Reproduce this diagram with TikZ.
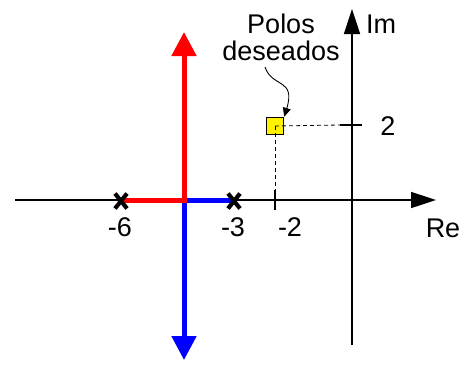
\documentclass[tikz,border=0pt]{standalone}
\usepackage{fontspec}
\setmainfont{Liberation Sans}
\usetikzlibrary{arrows.meta}
\begin{document}
\begin{tikzpicture}[x=1pt,y=-1pt,
  axis/.style={line width=1.6pt,-{Triangle[length=25pt,width=16pt]}},
  locus/.style={line width=5pt},
  locusarrow/.style={line width=5pt,-{Triangle[length=24pt,width=24pt]}},
  polemark/.style={line width=4.2pt},
  tick/.style={line width=1.4pt},
  guide/.style={line width=0.8pt,dash pattern=on 4pt off 3pt},
  lbl/.style={font=\fontsize{27}{31}\selectfont,inner sep=0pt},
  pole/.style={draw,line width=1.4pt,fill=yellow,minimum size=17pt,inner sep=0pt}]
\useasboundingbox (0,0) rectangle (465,373);
% coordinates
\coordinate (reS) at (15,200);
\coordinate (reE) at (436,200);
\coordinate (imS) at (352,345);
\coordinate (imE) at (352,9);
\coordinate (p6) at (121,201);
\coordinate (p3) at (234,201);
\coordinate (br) at (184,200);
\coordinate (redTop) at (184,32);
\coordinate (blueBot) at (184,360);
% axes
\draw[axis] (reS) -- (reE);
\draw[axis] (imS) -- (imE);
% root locus
\draw[locus,red] (p6 |- br) -- (br);
\draw[locus,blue] (br) -- (p3 |- br);
\draw[locusarrow,red] ([yshift=-2.5pt]br) -- (redTop);
\draw[locusarrow,blue] ([yshift=-2.5pt]br) -- (blueBot);
% pole marks
\draw[polemark] ([shift={(-6,-7.5)}]p6) -- ([shift={(6,7.5)}]p6);
\draw[polemark] ([shift={(-6,7.5)}]p6) -- ([shift={(6,-7.5)}]p6);
\draw[polemark] ([shift={(-6,-7.5)}]p3) -- ([shift={(6,7.5)}]p3);
\draw[polemark] ([shift={(-6,7.5)}]p3) -- ([shift={(6,-7.5)}]p3);
% desired pole
\node[pole] (dp) at (275,126) {};
\coordinate (t2a) at (275,190);
\coordinate (t2b) at (275,210);
\coordinate (ti1) at (340,125);
\coordinate (ti2) at (362,125);
\draw[guide] (dp.center) -- (t2a);
\draw[guide] (dp.center) -- (ti1);
\draw[tick] (t2a) -- (t2b);
\draw[tick] (ti1) -- (ti2);
% labels
\node[lbl] (l6) at (120,227) {-6};
\node[lbl] (l3) at (233,227) {-3};
\node[lbl] (l2) at (290,227) {-2};
\node[lbl] (lre) at (443,228) {Re};
\node[lbl] (lim) at (381,24) {Im};
\node[lbl] (lv2) at (388,126) {2};
\node[lbl,align=center] (pol) at (281,37) {Polos\\[-4pt]deseados};
\coordinate (cs) at (265,67);
\draw[line width=0.9pt,-{Triangle[length=9pt,width=8pt]}] (cs) .. controls (272,88) and (296,78) .. (dp.north east);
\end{tikzpicture}
\end{document}
